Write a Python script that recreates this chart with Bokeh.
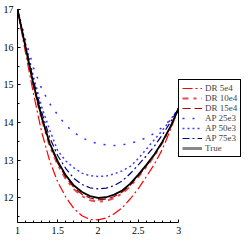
from bokeh.plotting import figure
from bokeh.models import FixedTicker, Range1d
from bokeh.embed import file_html
from bokeh.resources import INLINE

x_vals = [1.0, 1.1, 1.2, 1.3, 1.4, 1.5, 1.6, 1.7, 1.8, 1.9, 2.0,
          2.1, 2.2, 2.3, 2.4, 2.5, 2.6, 2.7, 2.8, 2.9, 3.0]

dr_5e4 = [17.0, 15.85, 14.75, 13.75, 12.98, 12.42, 12.02, 11.72, 11.53, 11.43, 11.42,
          11.47, 11.58, 11.74, 11.98, 12.25, 12.57, 12.90, 13.30, 13.82, 14.38]
dr_10e4 = [17.0, 15.97, 14.95, 14.09, 13.37, 12.88, 12.50, 12.23, 12.05, 11.94, 11.90,
           11.92, 12.00, 12.12, 12.31, 12.56, 12.83, 13.12, 13.47, 13.88, 14.38]
dr_15e4 = [17.0, 15.98, 14.97, 14.12, 13.41, 12.92, 12.55, 12.28, 12.10, 12.00, 11.95,
           11.97, 12.04, 12.16, 12.34, 12.59, 12.85, 13.14, 13.48, 13.89, 14.38]
ap_25e3 = [17.0, 16.20, 15.45, 14.90, 14.50, 14.20, 13.93, 13.74, 13.60, 13.50, 13.44,
           13.41, 13.39, 13.41, 13.45, 13.51, 13.60, 13.72, 13.88, 14.08, 14.35]
ap_50e3 = [17.0, 16.10, 15.20, 14.42, 13.80, 13.25, 12.98, 12.80, 12.66, 12.59, 12.57,
           12.58, 12.64, 12.72, 12.84, 13.05, 13.30, 13.55, 13.80, 14.08, 14.38]
ap_75e3 = [17.0, 16.05, 15.10, 14.28, 13.60, 13.12, 12.78, 12.52, 12.36, 12.27, 12.24,
           12.26, 12.33, 12.45, 12.65, 12.88, 13.12, 13.38, 13.68, 14.02, 14.38]
true_vals = [17.0, 16.00, 15.00, 14.15, 13.45, 12.97, 12.60, 12.33, 12.16, 12.05, 12.00,
             12.02, 12.09, 12.20, 12.38, 12.62, 12.88, 13.16, 13.50, 13.90, 14.38]

x_ticks = [1, 1.5, 2, 2.5, 3]
x_tick_labels = ["1", "1.5", "2", "2.5", "3"]
y_ticks = [12, 13, 14, 15, 16, 17]
y_tick_labels = ["12", "13", "14", "15", "16", "17"]

FONT = "Liberation Serif"

p = figure(width=241, height=241, output_backend="svg", toolbar_location=None,
           x_range=Range1d(1, 3.78), y_range=Range1d(11.35, 17.0),
           min_border_left=0, min_border_right=0, min_border_top=9, min_border_bottom=19)
p.outline_line_color = None
p.xgrid.visible = False
p.ygrid.visible = False
p.background_fill_color = "white"
# off-frame range used only so the "True" legend swatch can be grey
p.extra_y_ranges = {"legend_only": Range1d(100, 200)}

p.line(x_vals, dr_5e4, line_color="#ff0000", line_width=1.2, line_dash="10 3 2 3", legend_label="DR 5e4")
p.line(x_vals, dr_10e4, line_color="#e05050", line_width=2, line_dash="6 5 3 5", legend_label="DR 10e4")
p.line(x_vals, dr_15e4, line_color="#b00000", line_width=1.2, line_dash="8 4", legend_label="DR 15e4")
p.line(x_vals, ap_25e3, line_color="#3030ff", line_width=1.5, line_dash="2 8", legend_label="AP 25e3")
p.line(x_vals, ap_50e3, line_color="#4040ff", line_width=1.5, line_dash="2 3", legend_label="AP 50e3")
p.line(x_vals, ap_75e3, line_color="#000080", line_width=1.2, line_dash="7 3 2 3", legend_label="AP 75e3")
p.line(x_vals, true_vals, line_color="black", line_width=1.8)
p.line(x_vals, true_vals, line_color="#888888", line_width=3, legend_label="True",
       y_range_name="legend_only")

for ax in (p.xaxis[0], p.yaxis[0]):
    ax.major_label_text_font = FONT
    ax.major_label_text_font_size = "10px"
    ax.major_label_text_color = "black"
    ax.axis_line_color = "black"
    ax.major_tick_line_color = "black"
    ax.minor_tick_line_color = "black"
    ax.major_tick_in = 3
    ax.major_tick_out = 0
    ax.minor_tick_in = 2
    ax.minor_tick_out = 0
    ax.major_label_standoff = 4

p.xaxis.ticker = FixedTicker(ticks=x_ticks,
                             minor_ticks=[1.1, 1.2, 1.3, 1.4, 1.6, 1.7, 1.8, 1.9,
                                          2.1, 2.2, 2.3, 2.4, 2.6, 2.7, 2.8, 2.9])
p.xaxis.major_label_overrides = dict(zip(x_ticks, x_tick_labels))
p.xaxis.bounds = (1, 3)
p.yaxis.ticker = FixedTicker(ticks=y_ticks,
                             minor_ticks=[11.5, 12.5, 13.5, 14.5, 15.5, 16.5])
p.yaxis.major_label_overrides = dict(zip(y_ticks, y_tick_labels))
p.yaxis.bounds = (11.35, 17.0)

lg = p.legend[0]
lg.location = (161, 65)
lg.label_text_font = FONT
lg.label_text_font_size = "9px"
lg.label_height = 10
lg.label_width = 30
lg.glyph_height = 10
lg.glyph_width = 20
lg.label_standoff = 3
lg.spacing = 0
lg.padding = 3
lg.margin = 0
lg.border_line_color = "black"
lg.border_line_alpha = 1.0
lg.border_line_width = 1
lg.background_fill_color = "white"
lg.background_fill_alpha = 1.0

open("out.html", "w").write(file_html(p, INLINE))
